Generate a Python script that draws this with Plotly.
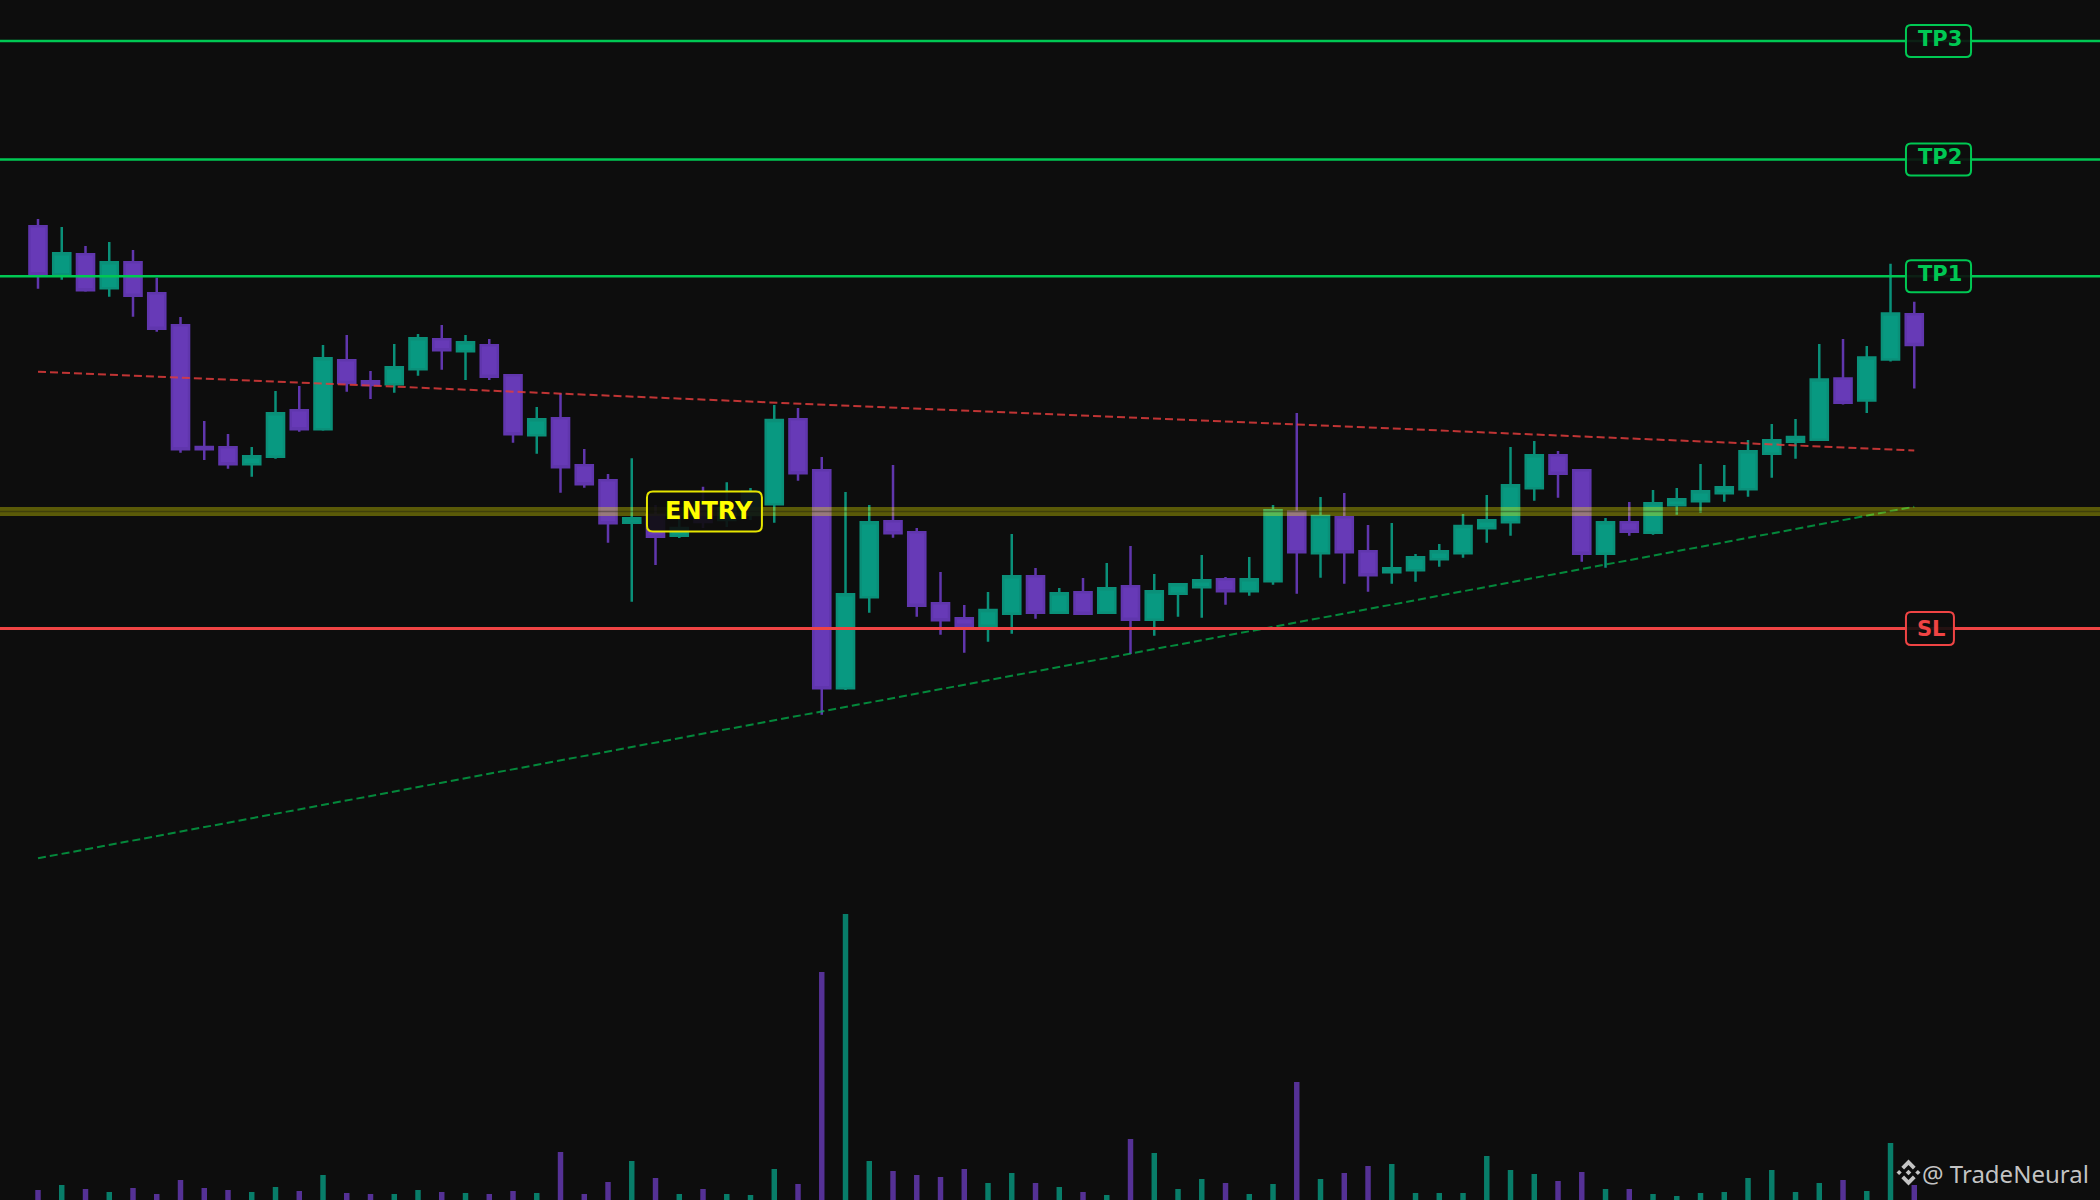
import plotly.graph_objects as go

# ---------------- data ----------------
opens = [9.737, 9.257, 9.457, 9.117, 9.377, 9.067, 8.747, 7.530, 7.527, 7.357,
         7.433, 7.897, 7.707, 8.397, 8.187, 8.157, 8.307, 8.607, 8.487, 8.547,
         8.247, 7.647, 7.817, 7.347, 7.197, 6.773, 6.850, 6.643, 6.950, 6.800,
         6.850, 6.957, 7.807, 7.297, 5.117, 6.027, 6.787, 6.677, 5.967, 5.817,
         5.743, 5.863, 6.237, 5.873, 6.077, 5.873, 6.137, 5.803, 6.063, 6.127,
         6.207, 6.087, 6.187, 6.883, 6.467, 6.827, 6.487, 6.277, 6.297, 6.407,
         6.467, 6.717, 6.777, 7.117, 7.447, 7.297, 6.463, 6.777, 6.673, 6.947,
         6.987, 7.067, 7.107, 7.463, 7.583, 7.603, 8.214, 7.996, 8.406, 8.857]
highs = [9.810, 9.730, 9.540, 9.580, 9.500, 9.223, 8.830, 7.790, 7.660, 7.530,
         8.090, 8.140, 8.550, 8.650, 8.290, 8.560, 8.660, 8.750, 8.650, 8.610,
         8.260, 7.930, 8.067, 7.510, 7.260, 7.417, 6.950, 6.850, 7.133, 7.177,
         7.120, 7.950, 7.920, 7.430, 7.080, 6.950, 7.350, 6.720, 6.280, 5.950,
         6.080, 6.660, 6.320, 6.120, 6.220, 6.370, 6.540, 6.260, 6.160, 6.450,
         6.230, 6.430, 6.950, 7.870, 7.030, 7.070, 6.750, 6.770, 6.460, 6.560,
         6.860, 7.050, 7.530, 7.590, 7.490, 7.303, 6.820, 6.980, 7.100, 7.120,
         7.360, 7.350, 7.600, 7.760, 7.810, 8.560, 8.610, 8.540, 9.362, 8.982]
lows = [9.113, 9.203, 9.083, 9.033, 8.833, 8.683, 7.473, 7.400, 7.313, 7.233,
        7.413, 7.683, 7.693, 8.083, 8.010, 8.073, 8.243, 8.303, 8.200, 8.200,
        7.573, 7.463, 7.073, 7.123, 6.573, 5.983, 6.350, 6.620, 6.720, 6.730,
        6.800, 6.773, 7.193, 4.853, 5.100, 5.873, 6.623, 5.833, 5.653, 5.473,
        5.583, 5.663, 5.813, 5.863, 5.863, 5.863, 5.460, 5.643, 5.833, 5.823,
        5.953, 6.043, 6.153, 6.063, 6.223, 6.163, 6.083, 6.163, 6.183, 6.333,
        6.423, 6.573, 6.643, 6.993, 7.023, 6.383, 6.323, 6.643, 6.653, 6.853,
        6.873, 6.983, 7.033, 7.223, 7.413, 7.590, 7.955, 7.870, 8.384, 8.116]
closes = [9.257, 9.467, 9.097, 9.377, 9.043, 8.713, 7.507, 7.507, 7.357, 7.437,
          7.867, 7.707, 8.417, 8.170, 8.150, 8.327, 8.617, 8.497, 8.577, 8.233,
          7.657, 7.807, 7.327, 7.157, 6.767, 6.817, 6.633, 6.720, 6.780, 6.920,
          7.080, 7.800, 7.267, 5.117, 6.057, 6.777, 6.667, 5.943, 5.797, 5.743,
          5.900, 6.237, 5.873, 6.067, 5.863, 6.117, 5.803, 6.087, 6.157, 6.197,
          6.087, 6.207, 6.897, 6.477, 6.840, 6.477, 6.247, 6.317, 6.427, 6.487,
          6.740, 6.797, 7.147, 7.447, 7.263, 6.463, 6.777, 6.683, 6.967, 7.007,
          7.087, 7.127, 7.487, 7.597, 7.630, 8.205, 7.973, 8.424, 8.866, 8.550]
volumes = [1.0, 1.5, 1.1, 0.8, 1.2, 0.6, 2.0, 1.2, 1.0, 0.8,
           1.3, 0.9, 2.5, 0.7, 0.6, 0.6, 1.0, 0.8, 0.7, 0.6,
           0.9, 0.7, 4.8, 0.6, 1.8, 3.9, 2.2, 0.6, 1.1, 0.6,
           0.5, 3.1, 1.6, 22.8, 28.6, 3.9, 2.9, 2.5, 2.3, 3.1,
           1.7, 2.7, 1.7, 1.3, 0.8, 0.5, 6.1, 4.7, 1.1, 2.1,
           1.7, 0.6, 1.6, 11.8, 2.1, 2.7, 3.4, 3.6, 0.7, 0.7,
           0.7, 4.4, 3.0, 2.6, 1.9, 2.8, 1.1, 1.1, 0.6, 0.4,
           0.7, 0.8, 2.2, 3.0, 0.8, 1.7, 2.0, 0.9, 5.7, 1.5]

level_names = ["TP3", "TP2", "TP1", "SL"]
level_prices = [11.589, 10.406, 9.237, 5.714]
entry_price = 6.884

resistance_x = [0, 79]
resistance_y = [8.283, 7.496]
support_x = [0, 79]
support_y = [3.417, 6.933]

# ---------------- styles ----------------
BG = "#0d0d0d"
UP = "#089981"
DOWN = "#673ab7"
GREEN = "#00c853"
RED = "#ef4444"
YELLOW = "#ffff00"

x = list(range(len(opens)))

fig = go.Figure()

vol_colors = [UP if c >= o else DOWN for o, c in zip(opens, closes)]
fig.add_trace(go.Bar(x=x, y=volumes, width=0.23, marker=dict(color=vol_colors, line=dict(width=0)),
                     opacity=0.8, yaxis="y2", hoverinfo="skip"))

fig.add_trace(go.Candlestick(
    x=x, open=opens, high=highs, low=lows, close=closes,
    increasing=dict(line=dict(color="#0a9079", width=2.5), fillcolor=UP),
    decreasing=dict(line=dict(color="#6036ad", width=2.5), fillcolor=DOWN),
    whiskerwidth=0, hoverinfo="skip"))

fig.add_trace(go.Scatter(x=resistance_x, y=resistance_y, mode="lines",
                         line=dict(color="rgba(225,60,60,0.85)", width=2, dash="8px,4px"), hoverinfo="skip"))
fig.add_trace(go.Scatter(x=support_x, y=support_y, mode="lines",
                         line=dict(color="rgba(0,190,80,0.7)", width=2, dash="8px,4px"), hoverinfo="skip"))

shapes = []
# level lines
for name, p in zip(level_names, level_prices):
    col = RED if name == "SL" else GREEN
    shapes.append(dict(type="line", xref="paper", x0=0, x1=1, yref="y", y0=p, y1=p,
                       line=dict(color=col, width=3 if name == "SL" else 2.5), layer="above"))
# entry band
shapes.append(dict(type="line", xref="paper", x0=0, x1=1, yref="y", y0=entry_price, y1=entry_price,
                   line=dict(color="rgba(255,255,0,0.32)", width=9), layer="above"))
shapes.append(dict(type="line", xref="paper", x0=0, x1=1, yref="y", y0=entry_price, y1=entry_price,
                   line=dict(color="rgba(13,13,13,0.35)", width=1.5), layer="above"))


def rounded(x0, x1, y0, y1, rx=0.21, ry=0.05):
    return (f"M {x0+rx},{y1} L {x1-rx},{y1} Q {x1},{y1} {x1},{y1-ry} "
            f"L {x1},{y0+ry} Q {x1},{y0} {x1-rx},{y0} L {x0+rx},{y0} "
            f"Q {x0},{y0} {x0},{y0+ry} L {x0},{y1-ry} Q {x0},{y1} {x0+rx},{y1} Z")


annotations = []
LX0 = 78.65
for name, p in zip(level_names, level_prices):
    col = RED if name == "SL" else GREEN
    w = 2.02 if name == "SL" else 2.74
    hh = 0.165 if name == "SL" else 0.16
    shapes.append(dict(type="path", xref="x", yref="y", path=rounded(LX0, LX0 + w, p - hh, p + hh),
                       line=dict(color=col, width=2), fillcolor="rgba(13,13,13,0.9)", layer="above"))
    annotations.append(dict(x=LX0 + w / 2 + 0.08, y=p, xref="x", yref="y", text=f"<b>{name}</b>",
                            showarrow=False, xanchor="center", yanchor="middle",
                            yshift=2 if name != "SL" else 0,
                            font=dict(family="DejaVu Sans", size=21, color=col)))

EX0, EW = 25.64, 4.84
shapes.append(dict(type="path", xref="x", yref="y",
                   path=rounded(EX0, EX0 + EW, entry_price - 0.20, entry_price + 0.20, rx=0.25, ry=0.06),
                   line=dict(color="#e6e600", width=2), fillcolor="rgba(13,13,13,0.9)", layer="above"))
annotations.append(dict(x=EX0 + EW / 2 + 0.2, y=entry_price, xref="x", yref="y", text="<b>ENTRY</b>",
                        showarrow=False, xanchor="center", yanchor="middle", yshift=1,
                        font=dict(family="DejaVu Sans", size=24, color=YELLOW)))

# watermark
annotations.append(dict(x=2091 / 2100, y=1 - 1173 / 1200, xref="paper", yref="paper", text="@ TradeNeural",
                        showarrow=False, xanchor="right", yanchor="middle",
                        font=dict(family="Noto Sans", size=24, color="rgba(222,222,222,0.88)")))


def px(xp, yp):
    return f"{xp/2100:.5f},{1 - yp/1200:.5f}"


cx, cy, s = 1908.5, 1172.5, 13.0
def pt(u, v):
    return px(cx + u * s, cy + v * s)

logo_paths = [
    [(0, -0.22), (0.22, 0), (0, 0.22), (-0.22, 0)],
    [(-0.72, -0.2), (-0.52, 0), (-0.72, 0.2), (-0.92, 0)],
    [(0.72, -0.2), (0.92, 0), (0.72, 0.2), (0.52, 0)],
    [(0, -1.0), (0.55, -0.45), (0.34, -0.24), (0, -0.58), (-0.34, -0.24), (-0.55, -0.45)],
    [(0, 1.0), (0.55, 0.45), (0.34, 0.24), (0, 0.58), (-0.34, 0.24), (-0.55, 0.45)],
]
for poly in logo_paths:
    path = "M " + " L ".join(pt(u, v) for u, v in poly) + " Z"
    shapes.append(dict(type="path", xref="paper", yref="paper", path=path,
                       line=dict(width=0), fillcolor="rgba(222,222,222,0.88)", layer="above"))

fig.update_layout(
    width=2100, height=1200,
    margin=dict(l=0, r=0, t=0, b=0),
    paper_bgcolor=BG, plot_bgcolor=BG,
    showlegend=False, hovermode=False,
    boxgap=0.28, boxgroupgap=0,
    xaxis=dict(range=[-1.6, 86.82], visible=False, rangeslider=dict(visible=False), fixedrange=True),
    yaxis=dict(range=[0, 12], visible=False, fixedrange=True),
    yaxis2=dict(range=[0, 120], visible=False, overlaying="y", fixedrange=True),
    shapes=shapes, annotations=annotations,
)

fig.write_html("out.html", config={"displayModeBar": False},
               post_script="document.body.style.margin='0';document.body.style.padding='0';"
                           "document.body.style.background='#0d0d0d';document.body.style.overflow='hidden';")
